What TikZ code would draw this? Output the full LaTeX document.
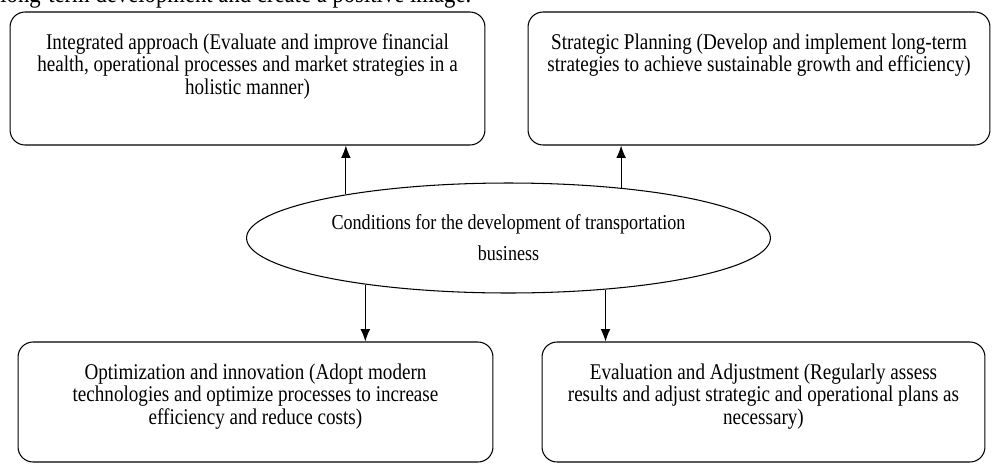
\documentclass[tikz,border=0pt]{standalone}
\usepackage{fontspec}
\setmainfont{Liberation Serif}[FakeStretch=0.85]
\usetikzlibrary{shapes.geometric,arrows.meta}

% Text oben im Kasten
\newcommand{\boxtext}[3]{\parbox[c][#1][t]{#2}{\centering #3}}

\begin{document}
\begin{tikzpicture}[x=0.02cm, y=-0.02cm,
    >={Latex[length=7pt,width=5.5pt]},   %Pfeilspitzen
    box/.style={draw, rounded corners=0.3cm, inner xsep=0pt, inner ysep=0.43cm, line width=0.6pt,
      font=\fontsize{12.8pt}{12.8pt}\selectfont},
    ell/.style={draw, ellipse, minimum width=10.48cm, minimum height=2.2cm, inner sep=0pt,
      align=center, line width=0.6pt, font=\fontsize{12.1pt}{17.6pt}\selectfont}]
    \useasboundingbox (0,0) rectangle (995,464);
    \clip (0,0) rectangle (995,464); %Bildbereich
    % Textzeile oben (abgeschnitten)
    \node[anchor=base west, inner sep=0pt, font=\fontsize{15.2pt}{18pt}\selectfont] (satz) at (0,2)
      {long-term development and create a positive image.};
    % Kaesten oben
    \node[box] (integ) at (247.5,78.5) {\boxtext{1.8cm}{9.5cm}{Integrated approach (Evaluate and improve financial\\
      health, operational processes and market strategies in a\\ holistic manner)}};
    \node[box] (strat) at (759,78.5) {\boxtext{1.8cm}{9.24cm}{Strategic Planning (Develop and implement long-term\\
      strategies to achieve sustainable growth and efficiency)}};
    % Ellipse in der Mitte
    \node[ell] (cond) at (508.5,238) {Conditions for the development of transportation\\ business};
    % Kaesten unten
    \node[box] (optim) at (255.5,402) {\boxtext{1.54cm}{9.5cm}{Optimization and innovation (Adopt modern\\
      technologies and optimize processes to increase\\ efficiency and reduce costs)}};
    \node[box] (eval) at (763.5,402) {\boxtext{1.54cm}{8.86cm}{Evaluation and Adjustment (Regularly assess\\
      results and adjust strategic and operational plans as\\ necessary)}};
    % Pfeile
    \draw[->, line width=0.6pt] (cond.165) -- (cond.165 |- integ.south);
    \draw[->, line width=0.6pt] (cond.24.3) -- (cond.24.3 |- strat.south);
    \draw[->, line width=0.6pt] (cond.198.1) -- (cond.198.1 |- optim.north);
    \draw[->, line width=0.6pt] (cond.332.4) -- (cond.332.4 |- eval.north);
\end{tikzpicture}
\end{document}
